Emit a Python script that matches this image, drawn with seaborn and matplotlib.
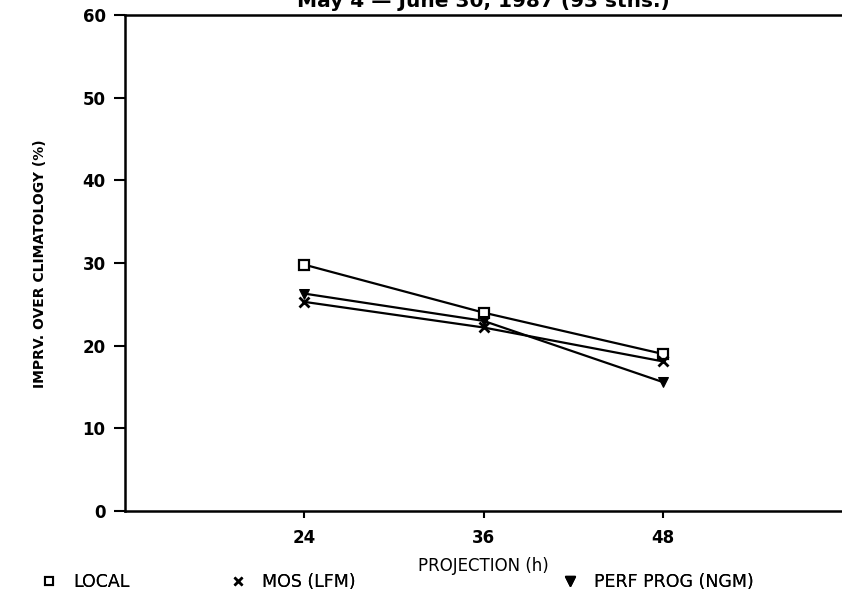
import matplotlib
matplotlib.use("Agg")
import matplotlib.pyplot as plt
from matplotlib.lines import Line2D
import seaborn as sns
import pandas as pd

projections = [24, 36, 48]
local_vals = [29.8, 24.0, 19.0]
mos_vals = [25.3, 22.2, 18.1]
perf_vals = [26.3, 23.0, 15.6]
series_names = ["LOCAL", "MOS (LFM)", "PERF PROG (NGM)"]
y_ticks = [0, 10, 20, 30, 40, 50, 60]
x_ticks = [24, 36, 48]
title_text = "May 4 \u2014 June 30, 1987 (93 stns.)"

df = pd.DataFrame({
    "proj": projections * 3,
    "val": local_vals + mos_vals + perf_vals,
    "model": [series_names[0]] * 3 + [series_names[1]] * 3 + [series_names[2]] * 3,
})

sns.set_theme(style="white")
plt.rcParams["font.family"] = ["DejaVu Sans"]
plt.rcParams["text.color"] = "black"
plt.rcParams["xtick.color"] = "black"
plt.rcParams["ytick.color"] = "black"
plt.rcParams["axes.labelcolor"] = "black"

fig = plt.figure(figsize=(8.42, 5.97), dpi=100)
ax = fig.add_axes([125 / 842, 1 - 511 / 597, 1 - 125 / 842, (511 - 15) / 597])

markers = {series_names[0]: "s", series_names[1]: "X", series_names[2]: "v"}
sns.lineplot(data=df, x="proj", y="val", hue="model", style="model",
             markers=markers, dashes=False, palette=["black"] * 3,
             linewidth=1.6, markersize=7, ax=ax, legend=False)
for ln in ax.lines:
    ln.set_markeredgecolor("black")
    ln.set_color("black")
ax.lines[0].set_markerfacecolor("white")
ax.lines[0].set_markeredgewidth(1.6)
ax.lines[0].set_markersize(6.5)
ax.lines[1].set_marker("x")
ax.lines[1].set_markeredgewidth(2.0)
ax.lines[1].set_markersize(7)
ax.lines[2].set_markersize(7.5)

ax.set_xlim(12, 60)
ax.set_ylim(0, 60)
ax.set_xticks(x_ticks)
ax.set_yticks(y_ticks)
ax.set_xticklabels([str(v) for v in x_ticks], fontweight="bold", fontsize=12, color="black")
ax.set_yticklabels([str(v) for v in y_ticks], fontweight="bold", fontsize=12, color="black")
ax.tick_params(axis="y", direction="out", length=8, width=1.5, pad=6, color="black", left=True)
ax.tick_params(axis="x", direction="out", length=5, width=1.5, pad=8, color="black", bottom=True)
ax.set_xlabel("")
ax.set_ylabel("")
for side in ["left", "bottom", "top"]:
    ax.spines[side].set_color("black")
    ax.spines[side].set_linewidth(1.8)
ax.spines["right"].set_visible(False)

cx = ax.get_position().x0 + ax.get_position().width / 2
fig.text(cx, 1 - 7 / 597, title_text, ha="center", va="baseline",
         fontsize=14.5, fontweight="bold", color="black")
fig.text(40 / 842, 1 - 264 / 597, "IMPRV. OVER CLIMATOLOGY (%)", rotation=90,
         ha="center", va="center", fontsize=10, fontweight="bold", color="black")
fig.text(cx, 1 - 566 / 597, "PROJECTION (h)", ha="center", va="center",
         fontsize=12, color="black")

handles = [
    Line2D([], [], color="black", marker="s", markerfacecolor="white", markeredgewidth=1.5, markersize=5.5, linestyle="none"),
    Line2D([], [], color="black", marker="x", markeredgewidth=1.8, markersize=6, linestyle="none"),
    Line2D([], [], color="black", marker="v", markersize=6.5, linestyle="none"),
]
legend_x = [40, 229, 561]
for h, name, lx in zip(handles, series_names, legend_x):
    lg = fig.legend([h], [name], loc="center left",
                    bbox_to_anchor=(lx / 842, 1 - 582 / 597), frameon=False,
                    handlelength=1.0, handletextpad=0.9, borderpad=0, borderaxespad=0,
                    prop={"size": 12.5})
    for t in lg.get_texts():
        t.set_color("black")
    fig.add_artist(lg)

fig.savefig("out.png", dpi=100)
